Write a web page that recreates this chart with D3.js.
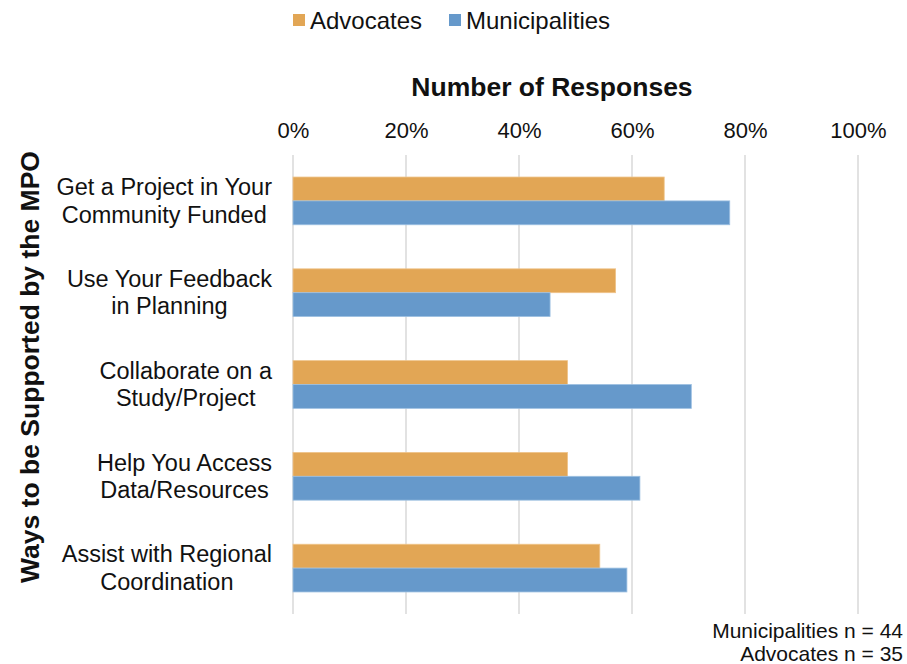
<!DOCTYPE html>
<html>
<head>
<meta charset="utf-8">
<script src="https://cdn.jsdelivr.net/npm/d3@7"></script>
<style>
  html, body { margin: 0; padding: 0; background: #fff; }
  svg text { font-family: "Liberation Sans", Arial, sans-serif; fill: #111; }
</style>
</head>
<body>
<svg id="chart" width="907" height="664"></svg>
<script>
// Survey: ways respondents would like to be supported by the MPO
const categories = [
  ["Get a Project in Your", "Community Funded"],
  ["Use Your Feedback", "in Planning"],
  ["Collaborate on a", "Study/Project"],
  ["Help You Access", "Data/Resources"],
  ["Assist with Regional", "Coordination"]
];
const seriesNames = ["Advocates", "Municipalities"];
const advocates = [0.657, 0.571, 0.486, 0.486, 0.543];
const municipalities = [0.773, 0.455, 0.705, 0.614, 0.591];
const xTicks = [0, 0.2, 0.4, 0.6, 0.8, 1.0];
const sampleNotes = ["Municipalities n = 44", "Advocates n = 35"];

const colors = { Advocates: "#E2A655", Municipalities: "#6699CB" };

const svg = d3.select("#chart");
const plotLeft = 293, plotRight = 858, plotTop = 155, plotBottom = 614;

const x = d3.scaleLinear().domain([0, 1]).range([plotLeft, plotRight]);
const y = d3.scaleBand().domain(d3.range(categories.length)).range([plotTop, plotBottom])
  .paddingInner(0.48).paddingOuter(0.24);
const ySub = d3.scaleBand().domain(seriesNames).range([0, y.bandwidth()]);

// vertical gridlines
svg.append("g").selectAll("line").data(xTicks).join("line")
  .attr("x1", d => x(d)).attr("x2", d => x(d))
  .attr("y1", plotTop).attr("y2", plotBottom)
  .attr("stroke", "#d9d9d9").attr("stroke-width", 1.5);

// top axis tick labels
const xAxis = d3.axisTop(x).tickValues(xTicks).tickFormat(d3.format(".0%")).tickSize(0).tickPadding(0);
const gx = svg.append("g").attr("transform", "translate(0,138)").call(xAxis);
gx.select(".domain").remove();
gx.selectAll("text").attr("font-size", 22).attr("fill", "#111")
  .attr("font-family", "Liberation Sans, Arial, sans-serif").attr("dy", 0);

// axis title
svg.append("text").attr("x", 552).attr("y", 96)
  .attr("text-anchor", "middle").attr("font-size", 26.5).attr("font-weight", "bold")
  .text("Number of Responses");

// bars
const rows = categories.map((c, i) => ({ i, values: [
  { key: "Advocates", v: advocates[i] },
  { key: "Municipalities", v: municipalities[i] }
]}));
const groups = svg.append("g").selectAll("g").data(rows).join("g")
  .attr("transform", d => `translate(0,${y(d.i)})`);
groups.selectAll("rect").data(d => d.values).join("rect")
  .attr("x", x(0))
  .attr("y", d => ySub(d.key))
  .attr("width", d => x(d.v) - x(0))
  .attr("height", ySub.bandwidth())
  .attr("fill", d => colors[d.key])
  .attr("stroke", d => d.key === "Advocates" ? "#EFC48A" : "#9DC0E2")
  .attr("stroke-width", 0.8);

// category labels: lines centred within a block right-aligned to the axis
const labelRight = 272;
const labels = svg.append("g");
categories.forEach((lines, i) => {
  const cy = y(i) + y.bandwidth() / 2;
  const t = labels.append("text").attr("font-size", 23.5).attr("text-anchor", "middle");
  const spans = lines.map((ln, k) => t.append("tspan").text(ln)
    .attr("y", cy + (k - (lines.length - 1) / 2) * 27.5 + 8));
  const maxW = d3.max(spans, s => s.node().getComputedTextLength());
  spans.forEach(s => s.attr("x", labelRight - maxW / 2));
});

// y axis title
svg.append("text")
  .attr("transform", "translate(39,367) rotate(-90)")
  .attr("text-anchor", "middle").attr("font-size", 26.5).attr("font-weight", "bold")
  .text("Ways to be Supported by the MPO");

// legend
const legend = svg.append("g");
const legendX = [293, 449];
seriesNames.forEach((name, i) => {
  legend.append("rect").attr("x", legendX[i]).attr("y", 14).attr("width", 12).attr("height", 12)
    .attr("fill", colors[name]);
  legend.append("text").attr("x", legendX[i] + 17).attr("y", 28.5).attr("font-size", 24).text(name);
});

// sample size notes
sampleNotes.forEach((t, i) => {
  svg.append("text").attr("x", 903).attr("y", 638 + i * 22.5)
    .attr("text-anchor", "end").attr("font-size", 21).text(t);
});
</script>
</body>
</html>
